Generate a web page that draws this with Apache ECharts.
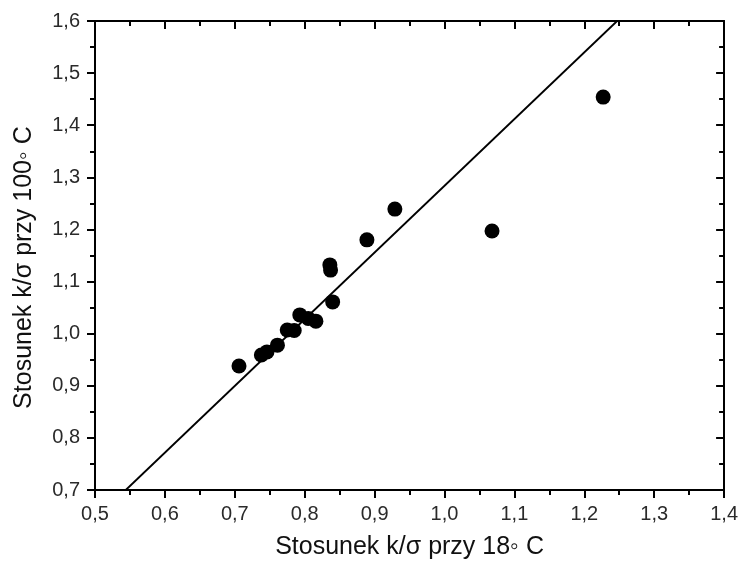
<!DOCTYPE html>
<html>
<head>
<meta charset="utf-8">
<script src="https://cdn.jsdelivr.net/npm/echarts@6/dist/echarts.min.js"></script>
<style>
html,body{margin:0;padding:0;background:#fff;}
#chart{width:741px;height:565px;}
</style>
</head>
<body>
<div id="chart"></div>
<script>
// pomiary: k/sigma przy 18 C (x) i przy 100 C (y)
var xVals = [0.706, 0.738, 0.746, 0.761, 0.775, 0.785, 0.793, 0.805, 0.816, 0.840, 0.836, 0.837, 0.889, 0.929, 1.068, 1.227];
var yVals = [0.938, 0.959, 0.965, 0.978, 1.007, 1.006, 1.036, 1.029, 1.024, 1.061, 1.132, 1.122, 1.180, 1.239, 1.197, 1.454];
// prosta dopasowania (końce)
var lineX = [0.544, 1.247];
var lineY = [0.7, 1.6];

var myChart = echarts.init(document.getElementById('chart'));
var fnt = 'Liberation Sans, Arial, sans-serif';
var fmt = function (v) { return v.toFixed(1).replace('.', ','); };

function axisBase(extra) {
    var a = {
        type: 'value',
        min: 0.5, max: 1.4, interval: 0.1,
        splitLine: {show: false},
        axisLine: {show: true, onZero: false, lineStyle: {color: '#000', width: 2}},
        axisTick: {show: true, length: 8, lineStyle: {color: '#000', width: 2}},
        minorTick: {show: true, splitNumber: 2, length: 5, lineStyle: {color: '#000', width: 2}},
        axisLabel: {color: '#2a2a2a', fontSize: 20, fontFamily: fnt, formatter: fmt, margin: 14}
    };
    for (var k in extra) a[k] = extra[k];
    return a;
}

myChart.setOption({
    animation: false,
    grid: {left: 95, right: 16, top: 21, bottom: 75},
    xAxis: [
        axisBase({
            position: 'bottom',
            name: 'Stosunek k/σ przy 18◦ C',
            nameLocation: 'middle',
            nameGap: 45,
            nameTextStyle: {color: '#111', fontSize: 25, fontFamily: fnt}
        }),
        axisBase({
            position: 'top',
            axisTick: {show: true, inside: true, length: 8, lineStyle: {color: '#000', width: 2}},
            minorTick: {show: true, splitNumber: 2, length: 5, lineStyle: {color: '#000', width: 2}},
            axisLabel: {show: false}
        })
    ],
    yAxis: [
        axisBase({
            min: 0.7, max: 1.6,
            position: 'left',
            axisLabel: {color: '#2a2a2a', fontSize: 20, fontFamily: fnt, formatter: fmt, margin: 15},
            name: 'Stosunek k/σ przy 100◦ C',
            nameLocation: 'middle',
            nameGap: 58,
            nameTextStyle: {color: '#111', fontSize: 25, fontFamily: fnt, padding: [0, 24, 0, 0]}
        }),
        axisBase({
            min: 0.7, max: 1.6,
            position: 'right',
            axisTick: {show: true, inside: true, length: 8, lineStyle: {color: '#000', width: 2}},
            minorTick: {show: true, splitNumber: 2, length: 5, lineStyle: {color: '#000', width: 2}},
            axisLabel: {show: false}
        })
    ],
    series: [{
        type: 'line',
        data: lineX.map(function (x, i) { return [x, lineY[i]]; }),
        showSymbol: false,
        lineStyle: {color: '#000', width: 1.8},
        z: 2
    }, {
        type: 'scatter',
        data: xVals.map(function (x, i) { return [x, yVals[i]]; }),
        symbol: 'circle',
        symbolSize: 15,
        itemStyle: {color: '#000', opacity: 1},
        z: 3
    }]
});
</script>
</body>
</html>
